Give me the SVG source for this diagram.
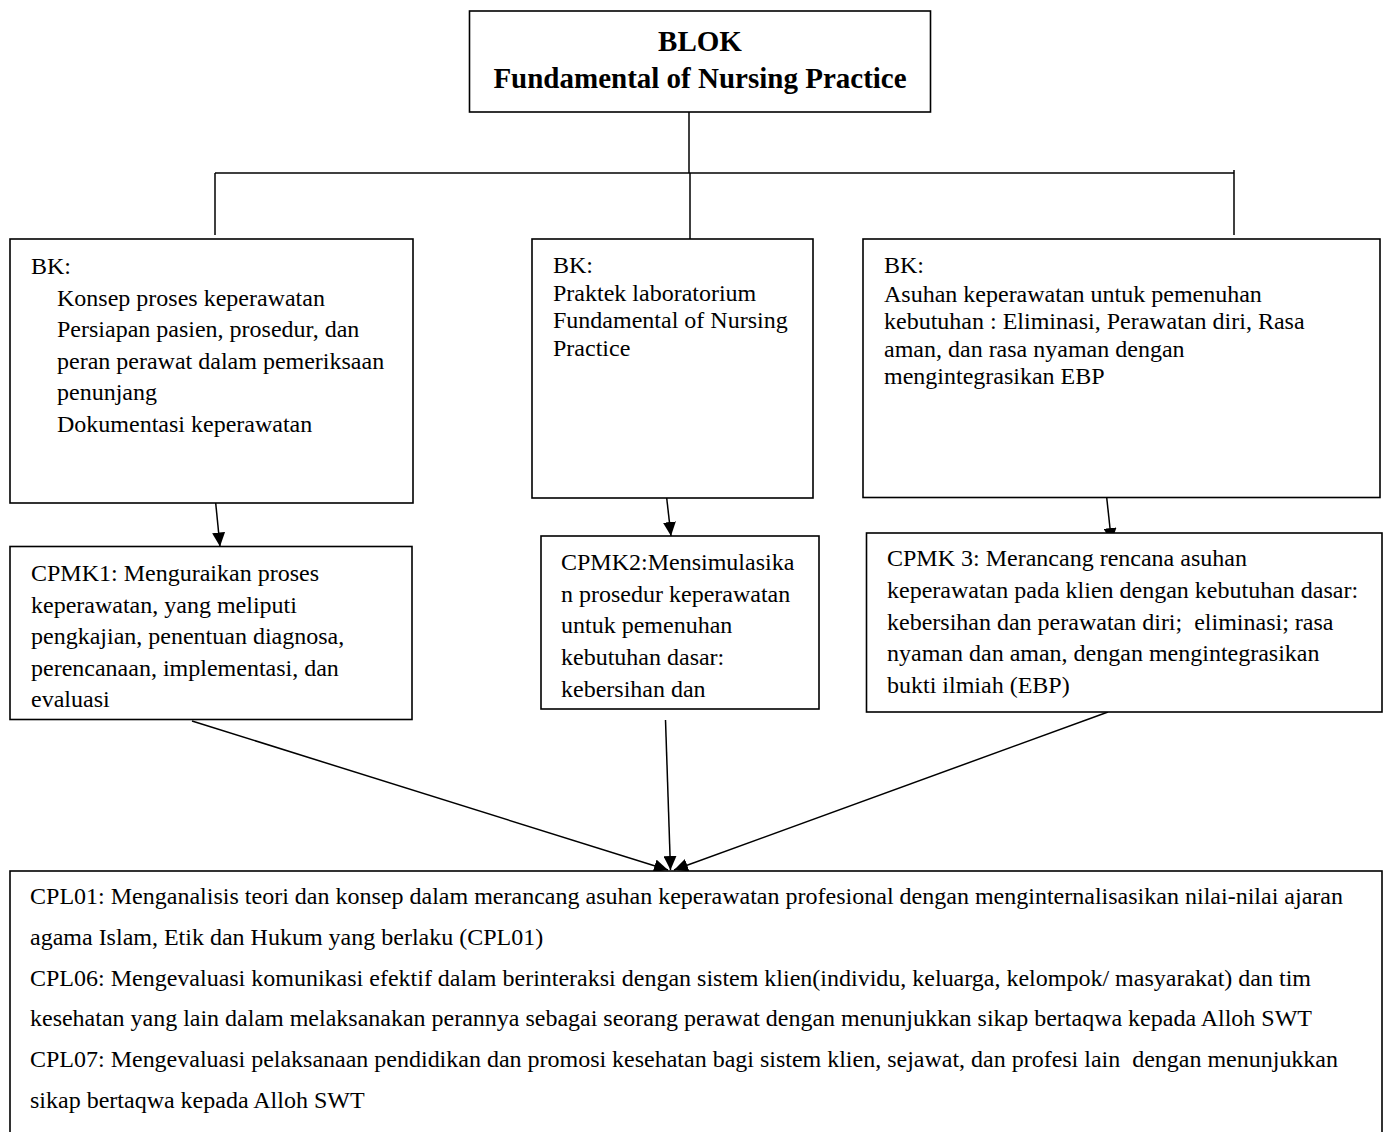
<svg xmlns="http://www.w3.org/2000/svg" width="1388" height="1132" viewBox="0 0 1388 1132">
<style>
.box{fill:#fff;stroke:#000;stroke-width:1.6}
.ln{stroke:#000;stroke-width:1.5;fill:none}
.t{font-family:"Liberation Serif","Times New Roman",serif;font-size:24px;fill:#000}
.h{font-family:"Liberation Serif","Times New Roman",serif;font-size:29px;font-weight:bold;fill:#000}
</style>
<defs>
<marker id="ah" markerUnits="userSpaceOnUse" markerWidth="14" markerHeight="13" refX="14" refY="6.5" orient="auto">
<path d="M0,0 L14,6.5 L0,13 z" fill="#000"/>
</marker>
</defs>
<rect width="1388" height="1132" fill="#fff"/>
<g id="connectors">
<line class="ln" x1="689" y1="112" x2="689" y2="173"/>
<line class="ln" x1="215" y1="173" x2="1234" y2="173"/>
<line class="ln" x1="215" y1="173" x2="215" y2="235"/>
<line class="ln" x1="690" y1="173" x2="690" y2="239"/>
<line class="ln" x1="1234" y1="170" x2="1234" y2="235"/>
<line class="ln" x1="215.7" y1="503" x2="220" y2="546.5" marker-end="url(#ah)"/>
<line class="ln" x1="666.7" y1="498" x2="671" y2="536" marker-end="url(#ah)"/>
<line class="ln" x1="1106.7" y1="497.5" x2="1111.5" y2="542" marker-end="url(#ah)"/>
<line class="ln" x1="192" y1="721" x2="668" y2="870" marker-end="url(#ah)"/>
<line class="ln" x1="665.5" y1="720" x2="670.5" y2="870" marker-end="url(#ah)"/>
<line class="ln" x1="1108" y1="712" x2="674" y2="870" marker-end="url(#ah)"/>
</g>
<g id="blok">
<rect class="box" x="469.5" y="11" width="461" height="101"/>
<text class="h" x="700" y="51" text-anchor="middle">BLOK</text>
<text class="h" x="700" y="88" text-anchor="middle">Fundamental of Nursing Practice</text>
</g>
<g id="bk1">
<rect class="box" x="10" y="239" width="403" height="264"/>
<text class="t" x="31" y="274">BK:</text>
<text class="t" x="57" y="305.5">Konsep proses keperawatan</text>
<text class="t" x="57" y="337">Persiapan pasien, prosedur, dan</text>
<text class="t" x="57" y="368.5">peran perawat dalam pemeriksaan</text>
<text class="t" x="57" y="400">penunjang</text>
<text class="t" x="57" y="432">Dokumentasi keperawatan</text>
</g>
<g id="bk2">
<rect class="box" x="532" y="239" width="281" height="259"/>
<text class="t" x="553" y="273">BK:</text>
<text class="t" x="553" y="300.5">Praktek laboratorium</text>
<text class="t" x="553" y="328">Fundamental of Nursing</text>
<text class="t" x="553" y="355.5">Practice</text>
</g>
<g id="bk3">
<rect class="box" x="863" y="239" width="517" height="258.5"/>
<text class="t" x="884" y="273">BK:</text>
<text class="t" x="884" y="301.5">Asuhan keperawatan untuk pemenuhan</text>
<text class="t" x="884" y="329">kebutuhan : Eliminasi, Perawatan diri, Rasa</text>
<text class="t" x="884" y="356.5">aman, dan rasa nyaman dengan</text>
<text class="t" x="884" y="384">mengintegrasikan EBP</text>
</g>
<g id="cpmk1">
<rect class="box" x="10" y="546.5" width="402" height="173"/>
<text class="t" x="31" y="581">CPMK1: Menguraikan proses</text>
<text class="t" x="31" y="612.5">keperawatan, yang meliputi</text>
<text class="t" x="31" y="644">pengkajian, penentuan diagnosa,</text>
<text class="t" x="31" y="675.5">perencanaan, implementasi, dan</text>
<text class="t" x="31" y="707">evaluasi</text>
</g>
<g id="cpmk2">
<rect class="box" x="541" y="536" width="278" height="173"/>
<text class="t" x="561" y="569.5">CPMK2:Mensimulasika</text>
<text class="t" x="561" y="601.5">n prosedur keperawatan</text>
<text class="t" x="561" y="633">untuk pemenuhan</text>
<text class="t" x="561" y="665">kebutuhan dasar:</text>
<text class="t" x="561" y="696.5">kebersihan dan</text>
</g>
<g id="cpmk3">
<rect class="box" x="866.5" y="533" width="515.5" height="179"/>
<text class="t" x="887" y="566">CPMK 3: Merancang rencana asuhan</text>
<text class="t" x="887" y="598">keperawatan pada klien dengan kebutuhan dasar:</text>
<text class="t" x="887" y="629.5" xml:space="preserve">kebersihan dan perawatan diri;  eliminasi; rasa</text>
<text class="t" x="887" y="661">nyaman dan aman, dengan mengintegrasikan</text>
<text class="t" x="887" y="692.5">bukti ilmiah (EBP)</text>
</g>
<g id="cpl">
<rect class="box" x="10" y="871" width="1372" height="280"/>
<text class="t" x="30" y="904" textLength="1313" lengthAdjust="spacing">CPL01: Menganalisis teori dan konsep dalam merancang asuhan keperawatan profesional dengan menginternalisasikan nilai-nilai ajaran</text>
<text class="t" x="30" y="945">agama Islam, Etik dan Hukum yang berlaku (CPL01)</text>
<text class="t" x="30" y="986" textLength="1281" lengthAdjust="spacing">CPL06: Mengevaluasi komunikasi efektif dalam berinteraksi dengan sistem klien(individu, keluarga, kelompok/ masyarakat) dan tim</text>
<text class="t" x="30" y="1026" textLength="1282" lengthAdjust="spacing">kesehatan yang lain dalam melaksanakan perannya sebagai seorang perawat dengan menunjukkan sikap bertaqwa kepada Alloh SWT</text>
<text class="t" x="30" y="1067" textLength="1308" lengthAdjust="spacing" xml:space="preserve">CPL07: Mengevaluasi pelaksanaan pendidikan dan promosi kesehatan bagi sistem klien, sejawat, dan profesi lain  dengan menunjukkan</text>
<text class="t" x="30" y="1108">sikap bertaqwa kepada Alloh SWT</text>
</g>
</svg>
